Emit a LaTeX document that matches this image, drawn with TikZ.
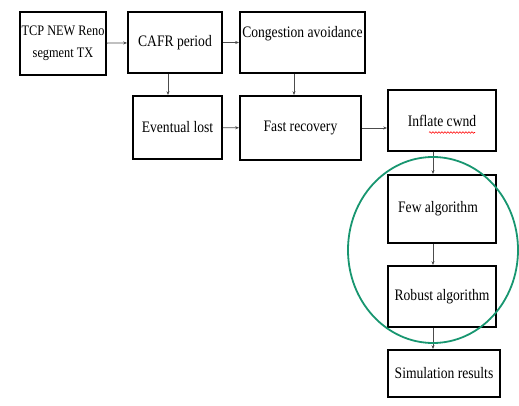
\documentclass[tikz,border=0pt]{standalone}
\usepackage{fontspec}
\setmainfont{Liberation Serif}[FakeStretch=0.85]
\usetikzlibrary{arrows.meta,calc,decorations.pathmorphing}
\definecolor{ringgreen}{RGB}{24,150,112}
\begin{document}
\begin{tikzpicture}[x=1pt, y=-1pt,
    box/.style={draw, line width=1.7pt, inner sep=0pt, align=center, font=\fontsize{16}{22}\selectfont},
    flow/.style={-{Stealth[length=4pt,width=3pt]}, line width=0.8pt, draw=black!70}]
                \useasboundingbox (0,0) rectangle (519,406);
                \node (TCP) [box, minimum width=86, minimum height=63,
                    font=\fontsize{14.5}{22}\selectfont] at (63,43.5)
                {TCP NEW Reno\\segment TX};
                \node (CAFR) [box, minimum width=94, minimum height=61] at (175,42.5)
                {CAFR period};
                \node (Cong) [box, minimum width=125, minimum height=61] at (302.5,42.5)
                {Congestion avoidance\\ \mbox{}};
                \node (Lost) [box, minimum width=89, minimum height=63] at (177.5,127.5)
                {Eventual lost};
                \node (Fast) [box, minimum width=121, minimum height=64] at (300.5,128)
                {Fast recovery};
                \node (Inflate) [box, minimum width=108, minimum height=61] at (442,120.5)
                {Inflate cwnd};
                \node (Few) [box, minimum width=108, minimum height=68] at (442,209)
                {Few algorithm\hspace{8pt}};
                \node (Robust) [box, minimum width=108, minimum height=61] at (442,296.5)
                {Robust algorithm};
                \node (Sim) [box, minimum width=112, minimum height=47] at (444,373.5)
                {Simulation results};

                \draw[flow] (TCP) -- (CAFR);
                \draw[flow] (CAFR) -- (Cong);
                \draw[flow] ($(CAFR.south)+(-7,0)$) -- ($(Lost.north)+(-9.5,0)$);
                \draw[flow] ($(Cong.south)+(-8.5,0)$) -- ($(Fast.north)+(-6.5,0)$);
                \draw[flow] (Lost) -- (Fast);
                \draw[flow] (Fast.east) -- (Fast.east -| Inflate.west);
                \draw[flow] ($(Inflate.south)+(-9,0)$) -- ($(Few.north)+(-9,0)$);
                \draw[flow] ($(Few.south)+(-9,0)$) -- ($(Robust.north)+(-9,0)$);
                \draw[flow] ($(Robust.south)+(-9,0)$) -- ($(Sim.north)+(-11,0)$);

                % spell-check mark and highlight ring
                \draw[red, line width=0.6pt, decorate, decoration={snake, amplitude=0.8pt, segment length=3pt}]
                    ($(Inflate.center)+(-13,12)$) -- ($(Inflate.center)+(33,12)$);
                \draw[ringgreen, line width=1.8pt] (433,250) ellipse (85 and 93);
            \end{tikzpicture}
\end{document}
